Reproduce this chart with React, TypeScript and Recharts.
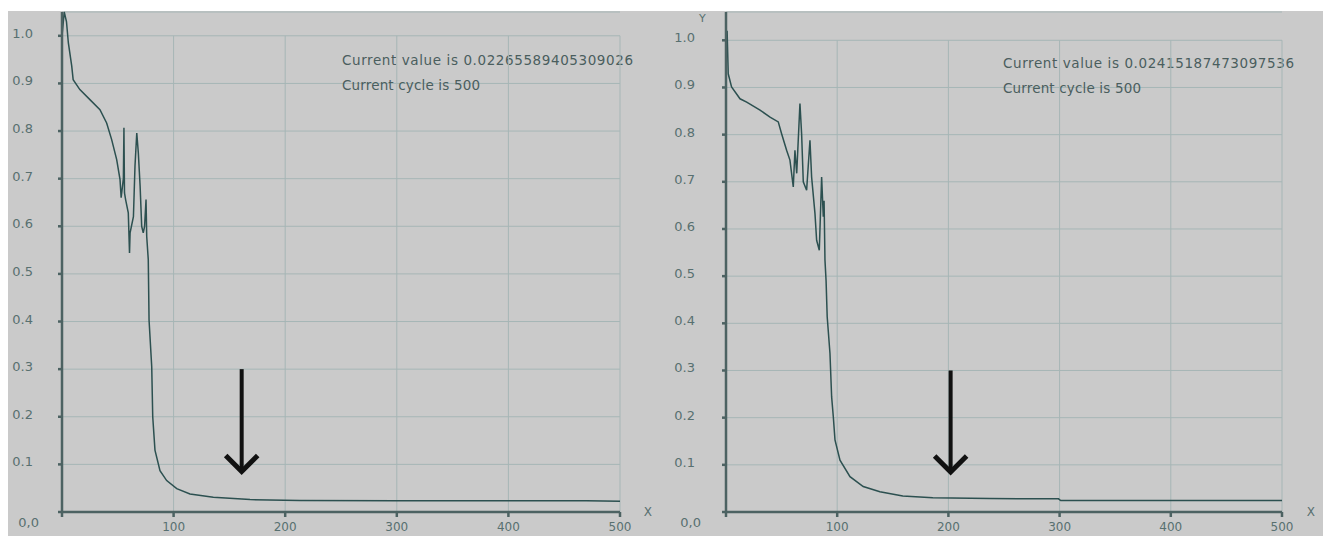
import { LineChart, Line, XAxis, YAxis, CartesianGrid, ReferenceLine, Customized } from "recharts"

// left run
const leftCycles = [0, 2, 4, 5.7, 8.7, 10, 16, 25, 34, 40, 44.5, 49, 52, 53, 55, 55.5, 56, 57, 59.4, 60.5, 61, 64, 65.4, 67, 68.4, 70, 71.4, 72.8, 74, 75.3, 75.9, 77.3, 78, 80.4, 81.3, 83.3, 87.8, 93.8, 102.8, 114.7, 135.6, 168.5, 213, 300, 470, 500]
const leftValues = [1.0, 1.05, 1.03, 0.985, 0.937, 0.908, 0.887, 0.866, 0.845, 0.817, 0.782, 0.74, 0.698, 0.66, 0.7, 0.807, 0.67, 0.656, 0.628, 0.544, 0.586, 0.62, 0.726, 0.796, 0.754, 0.684, 0.6, 0.586, 0.6, 0.656, 0.579, 0.53, 0.403, 0.305, 0.2, 0.13, 0.087, 0.066, 0.049, 0.038, 0.031, 0.026, 0.024, 0.0238, 0.0236, 0.0226]

// right run
const rightCycles = [0, 1, 2, 5, 12.6, 18.6, 30.6, 39.6, 47, 50, 54.5, 57.5, 60.5, 62, 63.6, 66.5, 68, 69.5, 72.5, 75.5, 77, 80, 81.5, 83.9, 86, 87.5, 88.2, 89, 90, 91, 93.5, 95, 96.5, 98, 102.5, 111.5, 123.4, 138.4, 159, 186, 237, 299, 301, 500]
const rightValues = [1.0, 1.02, 0.929, 0.901, 0.876, 0.869, 0.852, 0.837, 0.827, 0.802, 0.767, 0.746, 0.689, 0.767, 0.718, 0.866, 0.802, 0.7, 0.682, 0.788, 0.71, 0.633, 0.576, 0.555, 0.71, 0.626, 0.66, 0.534, 0.49, 0.414, 0.336, 0.244, 0.202, 0.153, 0.11, 0.075, 0.054, 0.043, 0.034, 0.03, 0.0285, 0.028, 0.0242, 0.0242]

const xTicks = [0, 100, 200, 300, 400, 500]
const yTicks = [0, 0.1, 0.2, 0.3, 0.4, 0.5, 0.6, 0.7, 0.8, 0.9, 1.0]
const gridCycles = [100, 200, 300, 400, 500]

const leftNote = ["Current value is 0.02265589405309026", "Current cycle is 500"]
const rightNote = ["Current value is 0.02415187473097536", "Current cycle is 500"]
const leftArrowAt = 161
const rightArrowAt = 202

const font = "'DejaVu Sans', sans-serif"
const axisColor = "#4c6262"
const gridColor = "#a6b6b6"
const textColor = "#587070"

const arrow = (props: any) => {
  const { x1, y1, x2, y2 } = props
  return (
    <g>
      <line x1={x1} y1={y1} x2={x2} y2={y2 - 2} stroke="#111" strokeWidth={4} />
      <polyline
        points={`${x2 - 16},${y2 - 16} ${x2},${y2} ${x2 + 16},${y2 - 16}`}
        fill="none"
        stroke="#111"
        strokeWidth={5}
      />
    </g>
  )
}

const yTick = (props: any) => {
  const { x, y, payload } = props
  const zero = payload.value === 0
  return (
    <text
      x={zero ? x + 6 : x}
      y={y}
      dy={zero ? 15 : 2}
      textAnchor="end"
      fill={textColor}
      fontSize={13}
      fontFamily={font}
    >
      {zero ? "0,0" : payload.value.toFixed(1)}
    </text>
  )
}

function Panel({ cycles, values, arrowAt, note, noteX, noteY, yMax, axisW, width, rightM, showY }: any) {
  const data = cycles.map((c: number, i: number) => ({ cycle: c, value: values[i] }))
  return (
    <LineChart width={width} height={536} data={data} margin={{ top: 12, right: rightM, bottom: 0, left: 0 }}>
      <CartesianGrid vertical={false} stroke={gridColor} />
      {gridCycles.map((c) => (
        <ReferenceLine key={c} segment={[{ x: c, y: 0 }, { x: c, y: 1 }]} stroke={gridColor} />
      ))}
      <XAxis
        dataKey="cycle"
        type="number"
        domain={[0, 500]}
        ticks={xTicks}
        tickFormatter={(v: number) => (v === 0 ? "" : String(v))}
        height={24}
        tickSize={5}
        tickMargin={5}
        stroke={axisColor}
        strokeWidth={2.5}
        tick={{ fill: textColor, fontSize: 12, fontFamily: font }}
      />
      <YAxis
        type="number"
        domain={[0, yMax]}
        ticks={yTicks}
        width={axisW}
        tickSize={4}
        tickMargin={axisW === 62 ? 25 : 27}
        stroke={axisColor}
        strokeWidth={2.5}
        tick={yTick}
      />
      <Line
        type="linear"
        dataKey="value"
        stroke="#2c5050"
        strokeWidth={1.5}
        dot={false}
        isAnimationActive={false}
      />
      <ReferenceLine segment={[{ x: arrowAt, y: 0.3 }, { x: arrowAt, y: 0.085 }]} shape={arrow} />
      <Customized
        component={() => (
          <g fontFamily={font} fill="#4a5e5e">
            <text x={noteX} y={noteY} fontSize={13.5} textLength={291} lengthAdjust="spacing">
              {note[0]}
            </text>
            <text x={noteX} y={noteY + 25} fontSize={13.5} textLength={138} lengthAdjust="spacing">
              {note[1]}
            </text>
            <text x={width - 8} y={516} fontSize={12} fill={textColor} textAnchor="end">
              X
            </text>
            {showY && (
              <text x={39} y={22} fontSize={11} fill={textColor}>
                Y
              </text>
            )}
          </g>
        )}
      />
    </LineChart>
  )
}

export default function App() {
  return (
    <div style={{ position: "absolute", left: 0, top: 0, width: 1323, height: 536, background: "#fff", overflow: "hidden" }}>
      <div style={{ position: "absolute", left: 8, top: 11, width: 1315, height: 525, background: "#cacaca" }} />
      <div style={{ position: "absolute", left: 0, top: 0 }}>
        <Panel cycles={leftCycles} values={leftValues} arrowAt={leftArrowAt} note={leftNote} noteX={342} noteY={65}
          yMax={1.05} axisW={62} width={660} rightM={40} showY={false} />
      </div>
      <div style={{ position: "absolute", left: 660, top: 0 }}>
        <Panel cycles={rightCycles} values={rightValues} arrowAt={rightArrowAt} note={rightNote} noteX={343} noteY={68}
          yMax={1.06} axisW={66} width={663} rightM={41} showY={true} />
      </div>
    </div>
  )
}
